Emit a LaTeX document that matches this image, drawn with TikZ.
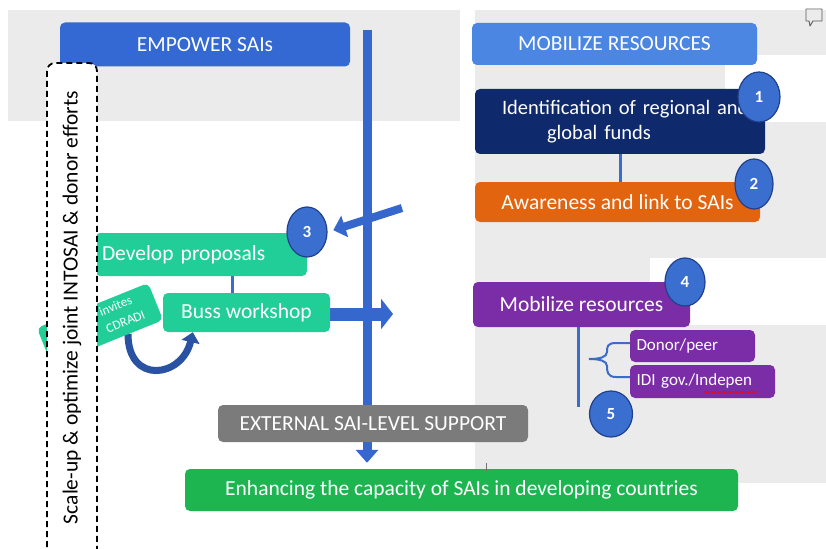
\documentclass[tikz,border=0pt]{standalone}
\usepackage{fontspec}
\setmainfont{Carlito}
\usetikzlibrary{shapes.geometric,arrows.meta,decorations.pathmorphing}
\pgfdeclarelayer{bg}
\pgfdeclarelayer{lines}
\pgfsetlayers{bg,lines,main}
\definecolor{empblue}{HTML}{3468D2}
\definecolor{mobblue}{HTML}{4A86E2}
\definecolor{navybox}{HTML}{0E2A6C}
\definecolor{orangebox}{HTML}{E2640E}
\definecolor{tealbox}{HTML}{22CE97}
\definecolor{purplebox}{HTML}{7A2DA6}
\definecolor{extgray}{HTML}{7B7B7B}
\definecolor{enhgreen}{HTML}{1CB550}
\definecolor{circblue}{HTML}{3A6FD0}
\definecolor{circedge}{HTML}{213F8C}
\definecolor{linkblue}{HTML}{3A6CC8}
\definecolor{arrowblue}{HTML}{3567CC}
\definecolor{bggray}{HTML}{EBEBEB}
\tikzset{
  box/.style={rectangle, rounded corners=5pt, inner sep=0pt, text=white,
    font=\fontsize{21.5}{24}\selectfont},
  smallbox/.style={box, font=\fontsize{17}{19}\selectfont},
  num/.style={ellipse, draw=circedge, line width=1.2pt, fill=circblue,
    text=white, inner sep=0pt, font=\bfseries\fontsize{17}{17}\selectfont},
  thinlink/.style={draw=linkblue, line width=3pt},
  fatarrow/.style={draw=arrowblue, line width=#1},
}
\begin{document}
\begin{tikzpicture}[x=1pt,y=-1pt]
\useasboundingbox (0,0) rectangle (826,548);
\begin{pgfonlayer}{bg}
  \fill[white] (0,0) rectangle (826,548);
  \fill[bggray] (8,10) rectangle (460,121);
  \fill[bggray] (475,10) rectangle (826,483);
  \fill[white] (725,55) rectangle (826,122);
  \fill[white] (650,258) rectangle (826,325);
\end{pgfonlayer}

% left column
\node[box, fill=empblue, minimum width=290pt, minimum height=44pt] (empower) at (205,44.5) {EMPOWER SAIs};
\node[box, fill=tealbox, rotate=22, minimum width=120pt, minimum height=40pt] (invites) at (100,324) {};
\node[text=white, rotate=22, align=left, inner sep=0pt, font=\fontsize{13}{18}\selectfont] (invtxt) at (122,313) {invites\\ CDRADI};
\node[box, fill=tealbox, minimum width=212pt, minimum height=43pt, text width=198pt, align=left] (develop) at (201,254.5) {Develop proposals};
\node[box, fill=tealbox, minimum width=167pt, minimum height=39pt] (workshop) at (246.5,312.5) {Buss workshop};
\node[num, minimum width=40pt, minimum height=50pt] (c3) at (307,232) {3};

% centre
\node[box, fill=extgray, minimum width=310pt, minimum height=37pt] (ext) at (373,423.5) {EXTERNAL SAI-LEVEL SUPPORT};
\node[box, fill=enhgreen, minimum width=553pt, minimum height=42pt] (enh) at (461.5,490) {Enhancing the capacity of SAIs in developing countries};
\coordinate (vtop) at (367,30);
\coordinate (a3start) at (402,208);
\coordinate (wsend) at (393,314);
\coordinate (curvestart) at (128,334);

% right column
\node[box, fill=mobblue, minimum width=285pt, minimum height=42pt] (mobilize) at (614.5,44) {MOBILIZE RESOURCES};
\node[box, fill=navybox, minimum width=290pt, minimum height=65pt, text width=264pt, align=left, font=\fontsize{20.5}{25}\selectfont] (ident) at (620,121.5) {\hspace*{14pt}Identification of regional and\\\hspace*{59pt}global funds};
\node[box, fill=orangebox, minimum width=285pt, minimum height=40pt] (aware) at (617.5,202) {Awareness and link to SAIs};
\node[box, fill=purplebox, minimum width=217pt, minimum height=45pt] (mobres) at (581.5,304.5) {Mobilize resources};
\node[smallbox, fill=purplebox, minimum width=125pt, minimum height=32pt, text width=112pt, align=left] (donor) at (692.5,346) {Donor/peer};
\node[smallbox, fill=purplebox, minimum width=145pt, minimum height=33pt, text width=132pt, align=left] (idi) at (702.5,381.5) {IDI gov./Indepen};
\node[num, minimum width=42pt, minimum height=50pt] (c1) at (759,97) {1};
\node[num, minimum width=38pt, minimum height=50pt] (c2) at (754,184) {2};
\node[num, minimum width=40pt, minimum height=48pt] (c4) at (685,282) {4};
\node[num, minimum width=43pt, minimum height=46pt] (c5) at (611,414) {5};
\coordinate (mrbottom) at (578,407);

\begin{pgfonlayer}{lines}
  \draw[fatarrow=8pt, -{Triangle[width=22pt,length=12pt]}, shorten >=6pt] (a3start) -- (c3.east);
  \draw[fatarrow=9pt, -{Triangle[width=22pt,length=13pt]}, shorten >=6pt] (vtop) -- (vtop |- enh.north);
  \draw[fatarrow=13pt, -{Triangle[width=30pt,length=12pt]}] (workshop.east |- wsend) -- (wsend);
  \draw[draw=arrowblue!80!black, line width=7pt, -{Triangle[width=18pt,length=10pt]}]
    (curvestart) .. controls (128,385) and (182,378) .. ([xshift=30pt]workshop.south west);
  \draw[thinlink] (ident.south) -- (ident.south |- aware.north);
  \draw[thinlink] ([xshift=-14.5pt]workshop.north) -- ([xshift=-14.5pt]workshop.north |- develop.south);
  \draw[thinlink] (mobres.south -| mrbottom) -- (mrbottom);
\end{pgfonlayer}
\draw[linkblue, line width=2pt] (donor.west |- 0,343) -- (616,343)
  .. controls (607,343) and (607,347) .. (607,352)
  .. controls (607,357) and (600,359) .. (589,359)
  .. controls (600,359) and (607,361) .. (607,366)
  .. controls (607,371) and (607,377) .. (616,377) -- (idi.west |- 0,377);
\draw[red, line width=0.7pt, decorate, decoration={snake, amplitude=0.6pt, segment length=3pt}] (704,392) -- (757,392);

% dashed frame
\draw[dash pattern=on 6pt off 4pt, line width=1.8pt, fill=white, rounded corners=8pt] (47,63) rectangle (97,575);
\node[rotate=90, inner sep=0pt, font=\fontsize{21.5}{24}\selectfont] (scaletxt) at (72,307.5) {Scale-up \& optimize joint INTOSAI \& donor efforts};

\draw[black!55, line width=0.6pt] (486,463) -- (486,471);
\draw[black!65, line width=0.9pt, line join=round] (806,9) -- (822,9) -- (822,21) -- (813,21) -- (810,26) -- (809,21) -- (806,21) -- cycle;
\end{tikzpicture}
\end{document}
